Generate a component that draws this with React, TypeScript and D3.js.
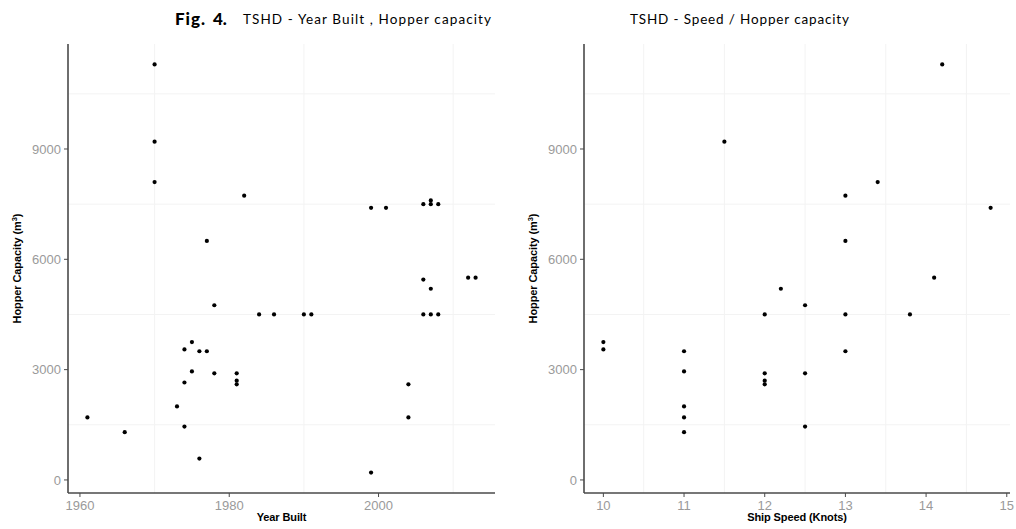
import React from "react";
import * as d3 from "d3";

// Year built vs hopper capacity (left panel)
const yearBuilt = [
  1961, 1966, 1970, 1970, 1970, 1973, 1974, 1974, 1974, 1975, 1975, 1976, 1976,
  1977, 1977, 1978, 1978, 1981, 1981, 1981, 1982, 1984, 1986, 1990, 1991, 1999,
  1999, 2001, 2004, 2004, 2006, 2006, 2006, 2007, 2007, 2007, 2007, 2008, 2008,
  2012, 2013,
];
const yearCapacity = [
  1700, 1300, 11300, 9200, 8100, 2000, 3550, 2650, 1450, 3750, 2950, 3500, 580,
  6500, 3500, 4750, 2900, 2900, 2700, 2600, 7730, 4500, 4500, 4500, 4500, 7400,
  200, 7400, 2600, 1700, 7500, 5450, 4500, 7600, 7500, 5200, 4500, 7500, 4500,
  5500, 5500,
];

// Ship speed vs hopper capacity (right panel)
const shipSpeed = [
  10, 10, 11, 11, 11, 11, 11, 11.5, 12, 12, 12, 12, 12.2, 12.5, 12.5, 12.5, 13,
  13, 13, 13, 13.4, 13.8, 14.1, 14.2, 14.8,
];
const speedCapacity = [
  3750, 3550, 3500, 2950, 2000, 1700, 1300, 9200, 4500, 2900, 2700, 2600, 5200,
  4750, 2900, 1450, 7730, 6500, 4500, 3500, 8100, 4500, 5500, 11300, 7400,
];

const capacityTicks = [0, 3000, 6000, 9000];
const capacityMinor = [1500, 4500, 7500, 10500];
const yearTicks = [1960, 1980, 2000];
const yearMinor = [1970, 1990, 2010];
const speedTicks = [10, 11, 12, 13, 14, 15];
const speedMinor = [10.5, 11.5, 12.5, 13.5, 14.5];

const TOP = 44;
const BOTTOM = 493;
const AXIS = "#4a4a4a";
const TICK_TEXT = "#9a9a9a";
const GRID = "#f3f3f3";
const SANS = "'Liberation Sans', Arial, Helvetica, sans-serif";
const TITLE_FONT = "Lato, 'Open Sans', sans-serif";

const yScale = d3.scaleLinear().domain([-355, 11855]).range([BOTTOM, TOP]);

type PanelProps = {
  x: d3.ScaleLinear<number, number>;
  xs: number[];
  ys: number[];
  xTicks: number[];
  xMinor: number[];
  xTitle: string;
};

function Panel({ x, xs, ys, xTicks, xMinor, xTitle }: PanelProps) {
  const [x0, x1] = x.range();
  const cx = (x0 + x1) / 2;
  const cy = (TOP + BOTTOM) / 2;
  return (
    <g>
      {/* minor grid */}
      {capacityMinor.map((v) => (
        <line key={"h" + v} x1={x0} x2={x1} y1={yScale(v)} y2={yScale(v)} stroke={GRID} strokeWidth={1} />
      ))}
      {xMinor.map((v) => (
        <line key={"v" + v} x1={x(v)} x2={x(v)} y1={TOP} y2={BOTTOM} stroke={GRID} strokeWidth={1} />
      ))}

      {/* points */}
      {xs.map((v, i) => (
        <circle key={i} cx={x(v)} cy={yScale(ys[i])} r={2.1} fill="#000" />
      ))}

      {/* axes */}
      <line x1={x0} x2={x0} y1={TOP} y2={BOTTOM} stroke={AXIS} strokeWidth={1.6} />
      <line x1={x0} x2={x1} y1={BOTTOM} y2={BOTTOM} stroke={AXIS} strokeWidth={1.6} />

      {capacityTicks.map((v) => (
        <g key={"yt" + v}>
          <line x1={x0 - 4} x2={x0} y1={yScale(v)} y2={yScale(v)} stroke={AXIS} strokeWidth={1} />
          <text
            x={x0 - 7}
            y={yScale(v)}
            dy="0.36em"
            textAnchor="end"
            fontFamily={SANS}
            fontSize={13}
            fill={TICK_TEXT}
          >
            {v}
          </text>
        </g>
      ))}
      {xTicks.map((v) => (
        <g key={"xt" + v}>
          <line x1={x(v)} x2={x(v)} y1={BOTTOM} y2={BOTTOM + 4} stroke={AXIS} strokeWidth={1} />
          <text
            x={x(v)}
            y={BOTTOM + 17}
            textAnchor="middle"
            fontFamily={SANS}
            fontSize={13}
            fill={TICK_TEXT}
          >
            {v}
          </text>
        </g>
      ))}

      {/* axis titles */}
      <text
        x={cx}
        y={BOTTOM + 28}
        textAnchor="middle"
        fontFamily={SANS}
        fontWeight="bold"
        fontSize={11}
        letterSpacing={-0.1}
        fill="#000"
      >
        {xTitle}
      </text>
      <text
        transform={`translate(${x0 - 47},${cy}) rotate(-90)`}
        textAnchor="middle"
        fontFamily={SANS}
        fontWeight="bold"
        fontSize={11}
        letterSpacing={-0.1}
        fill="#000"
      >
        Hopper Capacity (m
        <tspan fontSize={7.5} dy={-4}>3</tspan>
        <tspan dy={4}>)</tspan>
      </text>
    </g>
  );
}

export default function App() {
  const xYear = d3.scaleLinear().domain([1958.4, 2015.6]).range([68, 495]);
  const xSpeed = d3.scaleLinear().domain([9.76, 15.04]).range([584, 1010]);
  return (
    <svg
      width={1016}
      height={529}
      viewBox="0 0 1016 529"
      style={{ position: "absolute", left: 0, top: 0, background: "#fff" }}
    >
      <rect width={1016} height={529} fill="#fff" />
      <text x={175} y={25} fontFamily={TITLE_FONT} fontWeight="900" fontSize={17} fill="#000" textLength={30}>
        Fig.
      </text>
      <text x={213} y={25} fontFamily={TITLE_FONT} fontWeight="900" fontSize={17} fill="#000">
        4.
      </text>
      <text x={243} y={24} fontFamily={TITLE_FONT} fontSize={13.5} fill="#000" textLength={248}>
        TSHD - Year Built ,  Hopper capacity
      </text>
      <text x={630} y={24} fontFamily={TITLE_FONT} fontSize={13.5} fill="#000" textLength={219}>
        TSHD - Speed / Hopper capacity
      </text>

      <Panel x={xYear} xs={yearBuilt} ys={yearCapacity} xTicks={yearTicks} xMinor={yearMinor} xTitle="Year Built" />
      <Panel x={xSpeed} xs={shipSpeed} ys={speedCapacity} xTicks={speedTicks} xMinor={speedMinor} xTitle="Ship Speed (Knots)" />
    </svg>
  );
}
